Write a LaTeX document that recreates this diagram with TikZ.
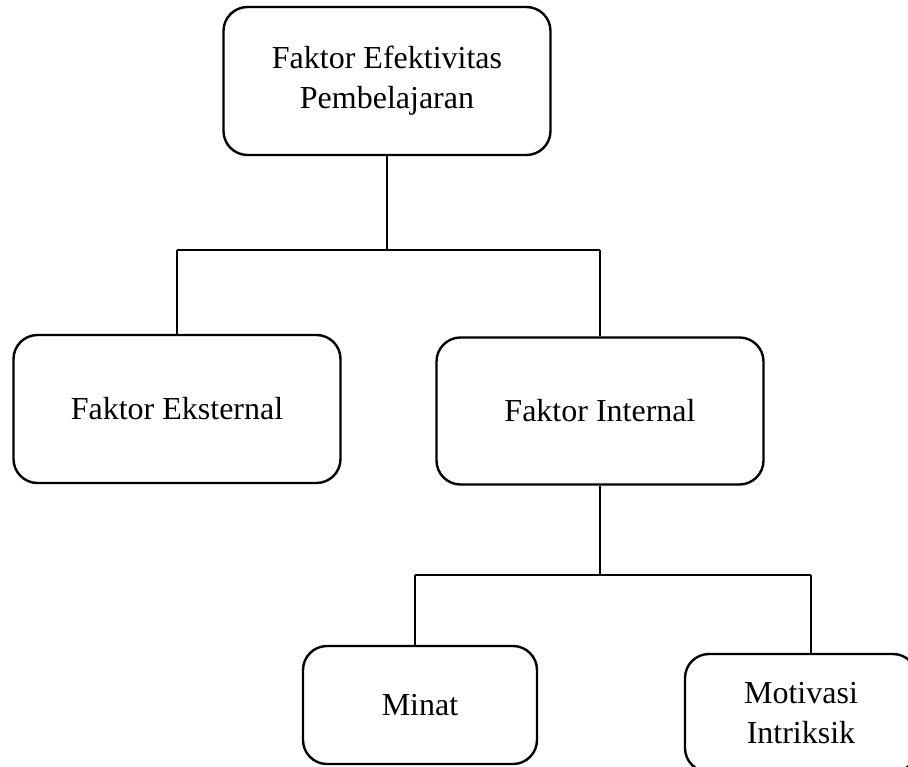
\documentclass[tikz,border=0pt]{standalone}
\usepackage{fontspec}
\setmainfont{Liberation Serif}
\usetikzlibrary{calc, positioning}

\tikzset{kotak/.style={draw, line width=2.4pt, rounded corners=24pt, align=center, inner sep=0pt, font=\fontsize{32}{40}\selectfont}}

\begin{document}
\begin{tikzpicture}[x=1pt, y=-1pt, line width=2.4pt]
        \clip (0,0) rectangle (908,767);

        \node[kotak, minimum width=327pt, minimum height=148pt] (fe) at (387,81) {Faktor Efektivitas\\Pembelajaran};
        \node[kotak, minimum width=327pt, minimum height=148pt] (ext) at (177,409) {Faktor Eksternal};
        \node[kotak, minimum width=327pt, minimum height=147pt] (int) at (600,411) {Faktor Internal};
        \node[kotak, minimum width=234pt, minimum height=118pt] (minat) at (420,705) {Minat};
        \node[kotak, minimum width=232pt, minimum height=118pt] (motiv) at (801,713) {Motivasi\\Intriksik};

        \coordinate (j1) at (387,250) {};
        \draw (fe.south) -- (j1);
        \draw (ext.north |- j1) -- (int.north |- j1);
        \draw (ext.north |- j1) -- (ext.north);
        \draw (int.north |- j1) -- (int.north);

        \coordinate (j2) at (600,575) {};
        \coordinate (m1) at (415,575) {};
        \coordinate (m2) at (811,575) {};
        \draw (int.south) -- (j2);
        \draw (m1) -- (m2);
        \draw (m1) -- (m1 |- minat.north);
        \draw (m2) -- (m2 |- motiv.north);
    \end{tikzpicture}
\end{document}
